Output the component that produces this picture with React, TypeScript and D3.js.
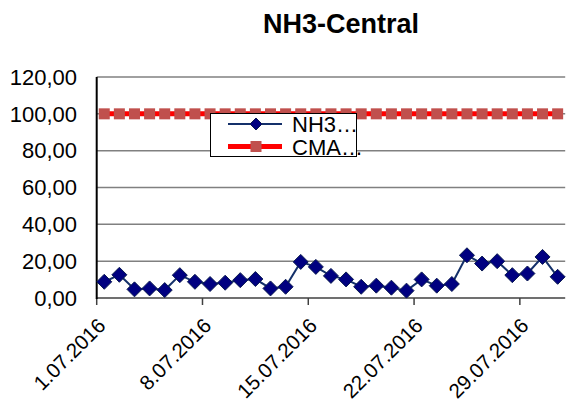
import React from "react";
import * as d3 from "d3";

const W = 566;
const H = 407;

const title = "NH3-Central";
const seriesNames = ["NH3…", "CMA…"];
const days = d3.range(1, 32);
const nh3Values = [
  8.8, 12.6, 4.7, 5.2, 4.3, 12.4, 8.8, 7.6, 8.3, 9.7, 10.3, 5.2, 6.1, 19.6, 16.9, 12.0,
  10.1, 6.1, 6.7, 5.6, 4.0, 10.1, 6.7, 7.6, 23.2, 18.7, 20.0, 12.4, 13.3, 22.3, 11.5,
];
const cmaValues = days.map(() => 100);
const yTicks = [0, 20, 40, 60, 80, 100, 120];
const xTickDays = [1, 8, 15, 22, 29];

const FONT = "'Liberation Sans', Arial, sans-serif";

export default function App() {
  const x = d3
    .scaleTime()
    .domain([new Date(2016, 6, 1), new Date(2016, 7, 1)])
    .range([96.7, 565.2]);
  const y = d3.scaleLinear().domain([0, 120]).range([298, 77]);
  const dayPos = (d: number) => x(new Date(2016, 6, d, 12));
  const fmtY = (v: number) => d3.format(".2f")(v).replace(".", ",");
  const fmtX = d3.timeFormat("%-d.%m.%Y");

  const nh3Line = d3
    .line<number>()
    .x((_, i) => dayPos(days[i]))
    .y((v) => y(v))(nh3Values) as string;
  const cmaLine = d3
    .line<number>()
    .x((_, i) => dayPos(days[i]))
    .y((v) => y(v))(cmaValues) as string;

  const diamond = (cx: number, cy: number, r: number) =>
    `M${cx},${cy - r}L${cx + r},${cy}L${cx},${cy + r}L${cx - r},${cy}Z`;

  const x0 = x.range()[0];
  const x1 = x.range()[1];

  return (
    <svg
      width={W}
      height={H}
      style={{ position: "absolute", left: 0, top: 0, background: "#fff" }}
      fontFamily={FONT}
    >
      <text x={341} y={33} textAnchor="middle" fontSize={27} fontWeight="bold">
        {title}
      </text>

      {yTicks.map((t) => (
        <g key={t}>
          {t > 0 && (
            <line x1={x0} x2={x1} y1={y(t)} y2={y(t)} stroke="#808080" strokeWidth={1.5} />
          )}
          <text x={77} y={y(t)} dy="0.35em" textAnchor="end" fontSize={22} fill="#000">
            {fmtY(t)}
          </text>
        </g>
      ))}

      {/* x axis */}
      <line x1={x0} x2={x1} y1={y(0)} y2={y(0)} stroke="#404040" strokeWidth={1.5} />
      {xTickDays.map((d) => {
        const dt = new Date(2016, 6, d);
        const px = x(dt);
        return (
          <g key={d}>
            <line x1={px} x2={px} y1={y(0)} y2={y(0) + 7} stroke="#404040" strokeWidth={1.5} />
            <text
              transform={`translate(${px + 10},${y(0) + 29}) rotate(-45)`}
              textAnchor="end"
              fontSize={20.5}
            >
              {fmtX(dt)}
            </text>
          </g>
        );
      })}
      {/* y axis */}
      <line x1={x0} x2={x0} y1={y(120)} y2={y(0) + 1} stroke="#000" strokeWidth={2} />

      {/* CMA */}
      <path d={cmaLine} fill="none" stroke="#ff0000" strokeWidth={5} />
      {cmaValues.map((v, i) => (
        <rect
          key={i}
          x={dayPos(days[i]) - 5.5}
          y={y(v) - 5.5}
          width={11}
          height={11}
          fill="#c0504d"
        />
      ))}

      {/* NH3 */}
      <path d={nh3Line} fill="none" stroke="#14306a" strokeWidth={2} />
      {nh3Values.map((v, i) => (
        <path
          key={i}
          d={diamond(dayPos(days[i]), y(v), 7.5)}
          fill="#000080"
          stroke="#0a1a50"
          strokeWidth={1}
        />
      ))}

      {/* legend */}
      <g>
        <rect x={210.5} y={113.5} width={146} height={43} fill="#fff" stroke="#000" strokeWidth={1} />
        <line x1={228} x2={282} y1={124} y2={124} stroke="#14306a" strokeWidth={2} />
        <path d={diamond(256, 124, 6)} fill="#000080" stroke="#0a1a50" strokeWidth={1} />
        <text x={292} y={132} fontSize={22}>
          {seriesNames[0]}
        </text>
        <line x1={228} x2={282} y1={146.5} y2={146.5} stroke="#ff0000" strokeWidth={5} />
        <rect x={250.5} y={141} width={11} height={11} fill="#c0504d" />
        <text x={292} y={155} fontSize={22}>
          {seriesNames[1]}
        </text>
      </g>
    </svg>
  );
}
